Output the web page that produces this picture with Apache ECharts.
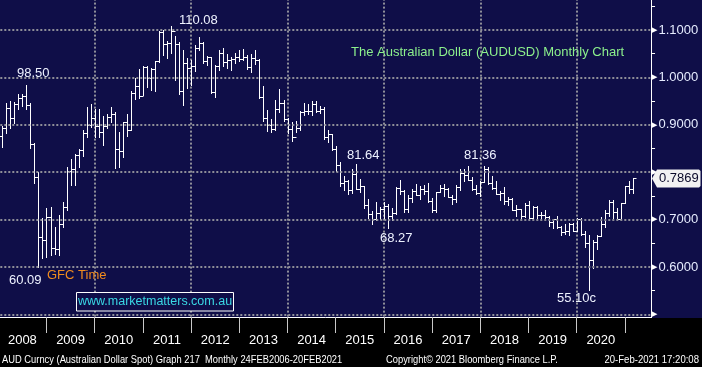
<!DOCTYPE html>
<html>
<head>
<meta charset="utf-8">
<script src="https://cdn.jsdelivr.net/npm/echarts@6.0.0/dist/echarts.min.js"></script>
<style>
html,body{margin:0;padding:0;background:#000;overflow:hidden;width:702px;height:367px;}
#c{position:absolute;left:0;top:-18px;width:702px;height:385px;}
</style>
</head>
<body>
<div id="c"></div>
<script>
// ---- data (AUDUSD monthly bars, Jan 2008 .. Feb 2021) ----
const years = ['2008','2009','2010','2011','2012','2013','2014','2015','2016','2017','2018','2019','2020','2021'];

const openPx = [
  .877,.894,.935,.914,.943,.956,.960,.942,.860,.790,.663,.656,
  .705,.640,.637,.690,.727,.803,.806,.836,.846,.882,.900,.914,
  .897,.885,.897,.917,.923,.849,.845,.905,.889,.968,.981,.960,
  1.022,.998,1.017,1.034,1.096,1.070,1.073,1.098,1.070,.972,1.030,1.020,
  1.023,1.061,1.073,1.034,1.042,.970,1.023,1.051,1.033,1.037,1.038,1.043,
  1.038,1.043,1.022,1.041,1.037,.958,.914,.899,.891,.933,.947,.912,
  .892,.874,.893,.927,.929,.930,.943,.929,.934,.874,.880,.850,
  .816,.778,.781,.762,.796,.765,.770,.730,.711,.702,.714,.722,
  .729,.707,.713,.766,.760,.723,.746,.760,.751,.765,.761,.739,
  .721,.758,.767,.764,.748,.743,.769,.799,.794,.784,.765,.756,
  .780,.806,.777,.767,.753,.757,.739,.743,.720,.723,.708,.731,
  .704,.726,.710,.710,.705,.694,.702,.684,.674,.675,.690,.676,
  .702,.669,.651,.615,.652,.666,.690,.714,.738,.716,.702,.734,
  .770,.765
];
const highPx = [
  .898,.947,.950,.948,.964,.966,.985,.947,.862,.800,.703,.724,
  .726,.684,.709,.737,.810,.828,.838,.849,.888,.937,.944,.933,
  .933,.919,.923,.938,.926,.884,.906,.923,.971,.998,1.018,1.025,
  1.025,1.019,1.034,1.097,1.101,1.077,1.108,1.088,1.075,1.058,1.040,1.036,
  1.068,1.085,1.075,1.045,1.043,1.026,1.058,1.062,1.050,1.044,1.051,1.058,
  1.060,1.047,1.050,1.058,1.038,.982,.932,.913,.952,.976,.953,.914,
  .905,.908,.929,.946,.944,.950,.951,.940,.938,.890,.880,.855,
  .822,.791,.784,.807,.8164,.785,.770,.744,.718,.738,.727,.738,
  .732,.724,.768,.784,.762,.751,.764,.776,.770,.773,.778,.746,
  .759,.774,.775,.767,.752,.772,.807,.807,.8125,.790,.773,.781,
  .8136,.811,.792,.781,.761,.768,.748,.745,.731,.723,.734,.739,
  .729,.729,.717,.721,.707,.702,.708,.686,.690,.693,.693,.703,
  .703,.677,.668,.657,.668,.706,.720,.741,.742,.724,.734,.770,
  .782,.787
];
const lowPx = [
  .853,.882,.893,.903,.933,.940,.933,.851,.778,.6009,.618,.622,
  .626,.628,.625,.684,.720,.772,.772,.812,.835,.874,.895,.874,
  .874,.858,.894,.906,.809,.812,.832,.877,.889,.955,.956,.962,
  .980,.973,.971,1.033,1.047,1.040,1.052,.994,.966,.942,.978,.985,
  1.014,1.057,1.030,1.026,.968,.959,1.016,1.023,1.020,1.016,1.030,1.034,
  1.036,1.018,1.012,1.028,.956,.908,.887,.885,.888,.926,.908,.882,
  .866,.885,.889,.920,.922,.920,.928,.924,.871,.864,.847,.803,
  .770,.762,.753,.756,.764,.759,.725,.704,.691,.699,.701,.702,
  .6827,.700,.712,.755,.715,.715,.737,.751,.744,.755,.738,.716,
  .716,.759,.749,.748,.733,.738,.763,.781,.784,.763,.753,.750,
  .780,.776,.764,.753,.741,.733,.731,.720,.708,.702,.705,.702,
  .700,.704,.700,.701,.686,.683,.683,.668,.670,.667,.675,.675,
  .668,.643,.551,.598,.637,.665,.685,.708,.700,.700,.699,.734,
  .756,.756
];
const closePx = [
  .894,.935,.914,.943,.956,.960,.942,.860,.790,.663,.656,.705,
  .640,.637,.690,.727,.803,.806,.836,.846,.882,.900,.914,.897,
  .885,.897,.917,.923,.849,.845,.905,.889,.968,.981,.960,1.022,
  .998,1.017,1.034,1.096,1.070,1.073,1.098,1.070,.972,1.030,1.020,1.023,
  1.061,1.073,1.034,1.042,.970,1.023,1.051,1.033,1.037,1.038,1.043,1.038,
  1.043,1.022,1.041,1.037,.958,.914,.899,.891,.933,.947,.912,.892,
  .874,.893,.927,.929,.930,.943,.929,.934,.874,.880,.850,.816,
  .778,.781,.762,.796,.765,.770,.730,.711,.702,.714,.722,.729,
  .707,.713,.766,.760,.723,.746,.760,.751,.765,.761,.739,.721,
  .758,.767,.764,.748,.743,.769,.799,.794,.784,.765,.756,.780,
  .806,.777,.767,.753,.757,.739,.743,.720,.723,.708,.731,.704,
  .726,.710,.710,.705,.694,.702,.684,.674,.675,.690,.676,.702,
  .669,.651,.615,.652,.666,.690,.714,.738,.716,.702,.734,.770,
  .765,.7869
];
const axisTickLabels = ['0.6000','0.7000','0.9000','1.0000','1.1000'];
const annotations = [
  {text:'110.08', x:179, y:20, color:'#eef2ff'},
  {text:'98.50',  x:17,  y:73, color:'#eef2ff'},
  {text:'60.09',  x:9,   y:280, color:'#eef2ff'},
  {text:'GFC Time', x:47, y:275, color:'#f08c1e'},
  {text:'81.64',  x:347, y:155, color:'#eef2ff'},
  {text:'68.27',  x:380, y:238, color:'#eef2ff'},
  {text:'81.36',  x:464, y:155, color:'#eef2ff'},
  {text:'55.10c', x:557, y:298, color:'#eef2ff'},
  {text:'The Australian Dollar (AUDUSD) Monthly Chart', x:351, y:52, color:'#8cf08c'}
];
const footerLeft = 'AUD Curncy (Australian Dollar Spot) Graph 217  Monthly 24FEB2006-20FEB2021';
const footerMid = 'Copyright\u00A9 2021 Bloomberg Finance L.P.';
const footerRight = '20-Feb-2021 17:20:08';
const siteText = 'www.marketmatters.com.au';

// ---- build ----
const OFF = 18; // chart div is shifted up by this many px
const months = [];
years.forEach(y => { for (let m = 1; m <= 12; m++) months.push(y + '-' + (m < 10 ? '0' + m : m)); });
const categories = months.slice(0, 162);
const ohlc = openPx.map((o, i) => [i, o, highPx[i], lowPx[i], closePx[i]]);

const NAVY = '#0f0e48';
const GRID = '#8e8e98';
const FONT = '"Liberation Sans", Arial, sans-serif';
const NFONT = '"Liberation Sans Narrow", "Liberation Sans", sans-serif';

function renderItem(params, api) {
  const i = api.value(0);
  const pO = api.coord([i, api.value(1)]);
  const pH = api.coord([i, api.value(2)]);
  const pL = api.coord([i, api.value(3)]);
  const pC = api.coord([i, api.value(4)]);
  const x = Math.round(pO[0]) + 0.5;
  const yo = Math.round(pO[1]) + 0.5;
  const yc = Math.round(pC[1]) + 0.5;
  const st = {stroke: '#ffffff', lineWidth: 1};
  return {type: 'group', children: [
    {type: 'line', shape: {x1: x, y1: Math.round(pH[1]), x2: x, y2: Math.round(pL[1]) + 1}, style: st},
    {type: 'line', shape: {x1: x - 3, y1: yo, x2: x, y2: yo}, style: st},
    {type: 'line', shape: {x1: x, y1: yc, x2: x + 3, y2: yc}, style: st}
  ]};
}

function txt(s, x, y, color, font, align, sx) {
  const el = {type: 'text', z: 40, x: x, y: y + OFF,
    style: {text: s, fill: color, font: font, textAlign: align || 'left', align: align || 'left',
            textVerticalAlign: 'middle', verticalAlign: 'middle'}};
  if (sx) el.scaleX = sx;
  return el;
}

const chart = echarts.init(document.getElementById('c'), null, {renderer: 'canvas'});

const graphics = [
  {type: 'rect', z: 10, shape: {x: 0, y: 318 + OFF, width: 702, height: 49}, style: {fill: '#000000'}},
  {type: 'rect', z: 35, shape: {x: 76.5, y: 292.5 + OFF, width: 157, height: 18.5}, style: {fill: NAVY, stroke: '#ffffff', lineWidth: 1}},
  txt(siteText, 155, 302, '#3ad8e4', '12.5px ' + FONT, 'center'),
  txt(footerLeft, 2, 360, '#ffffff', '10.5px ' + NFONT, 'left', 0.89),
  txt(footerMid, 386, 360, '#ffffff', '10.5px ' + NFONT, 'left', 0.89),
  txt(footerRight, 699, 360, '#ffffff', '10.5px ' + NFONT, 'right', 0.91)
];
annotations.forEach(a => graphics.push(txt(a.text, a.x, a.y, a.color, '13px ' + FONT)));

chart.setOption({
  animation: false,
  backgroundColor: NAVY,
  grid: {left: 0.3, right: 50.94, top: 0.6, bottom: 5.2, containLabel: false},
  xAxis: [
    {type: 'category', data: categories, position: 'top', boundaryGap: true, z: 1,
     axisLine: {show: false}, axisTick: {show: false}, axisLabel: {show: false},
     splitLine: {show: true, alignWithLabel: true, interval: (i) => i % 24 === 23,
                 lineStyle: {color: GRID, width: 2, type: 'dotted'}}},
    {type: 'category', data: categories, position: 'bottom', offset: -44.8, boundaryGap: true, z: 20,
     axisLine: {show: true, lineStyle: {color: '#ffffff', width: 1}},
     axisTick: {show: true, alignWithLabel: true, interval: (i) => i % 12 === 11, length: 16,
                lineStyle: {color: '#c8c8c8', width: 1}},
     axisLabel: {show: true, interval: (i) => i % 12 === 5 && i < 156, margin: 17,
                 formatter: (v) => v.slice(0, 4), color: '#ffffff', fontSize: 13, fontFamily: FONT},
     splitLine: {show: false}}
  ],
  yAxis: {
    type: 'value', position: 'right', min: 0.4, max: 1.2, interval: 0.1, z: 5,
    axisLine: {show: true, lineStyle: {color: '#ffffff', width: 1}},
    axisTick: {show: false},
    minorTick: {show: true, splitNumber: 2, length: 4, lineStyle: {color: '#ffffff', width: 1}},
    splitLine: {show: true, lineStyle: {color: GRID, width: 2, type: 'dotted'}},
    axisLabel: {
      margin: 1,
      formatter: function (v) {
        const s = v.toFixed(4);
        if (axisTickLabels.indexOf(s) >= 0) return '{t|\u25B6}{v|' + s + '}';
        if (s === '0.5000' || s === '0.8000') return '{t|\u25B6}';
        return '';
      },
      rich: {
        t: {fontSize: 7, color: '#ffffff', fontFamily: 'DejaVu Sans', verticalAlign: 'middle', lineHeight: 14, padding: [0, 1, 0, 0]},
        v: {fontSize: 13, color: '#e6ecff', fontFamily: FONT, verticalAlign: 'middle', lineHeight: 14}
      }
    }
  },
  series: [{
    type: 'custom', xAxisIndex: 0, yAxisIndex: 0, z: 2,
    data: ohlc, encode: {x: 0, y: [1, 2, 3, 4]},
    renderItem: renderItem, clip: true
  }],
  graphic: {elements: graphics}
});

// price tag at last close
const last = closePx[closePx.length - 1];
const py = Math.round(chart.convertToPixel({yAxisIndex: 0}, last)) + 0.5;
graphics.push({type: 'polygon', z: 45, shape: {points: [[652, py], [657, py - 9], [699, py - 9], [700.5, py - 7.5], [700.5, py + 7.5], [699, py + 9], [657, py + 9]]},
  style: {fill: '#f2f2f2'}});
const tagText = txt(last.toFixed(4), 659, py - OFF, '#0a0a2a', '13px ' + FONT);
tagText.z = 46;
graphics.push(tagText);
chart.setOption({graphic: {elements: graphics}}, {replaceMerge: ['graphic']});
</script>
</body>
</html>
